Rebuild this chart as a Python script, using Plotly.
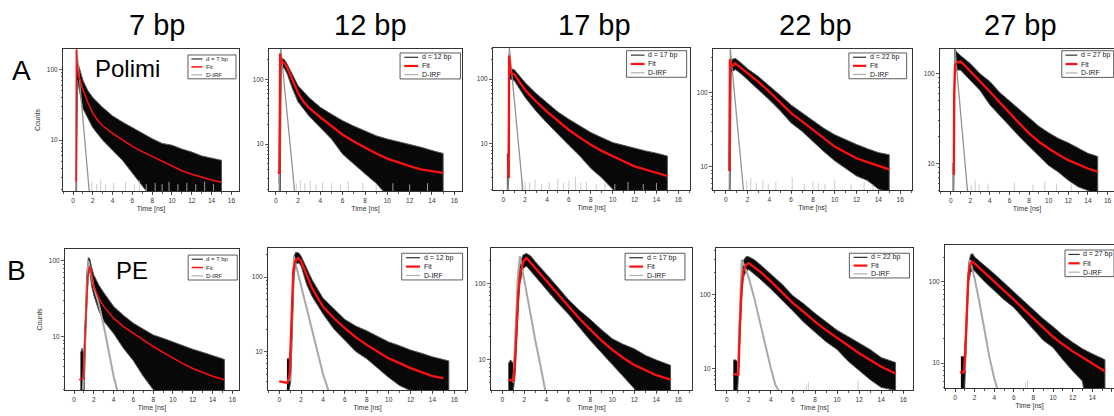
import plotly.graph_objects as go

FONT = "Liberation Sans, Arial, sans-serif"
W, H = 1114, 416

# ---------------- text ----------------
COLUMN_TITLES = ["7 bp", "12 bp", "17 bp", "22 bp", "27 bp"]
ROW_LABELS = ["A", "B"]
ROW_SOURCES = ["Polimi", "PE"]
DATA_NAMES = ["d = 7 bp", "d = 12 bp", "d = 17 bp", "d = 22 bp", "d = 27 bp"]
FIT_NAME = "Fit"
IRF_NAME = "D-IRF"
X_TITLE = "Time [ns]"
Y_TITLE = "Counts"
X_TICKS = [0, 2, 4, 6, 8, 10, 12, 14, 16]
Y_TICKS = [10, 100]
Y_MINOR = [2, 3, 4, 5, 6, 7, 8, 9, 20, 30, 40, 50, 60, 70, 80, 90,
           200, 300, 400, 500, 600, 700, 800, 900]
FLOOR = 1.0  # counts that fall below the visible axis

# ================= Row A : Polimi =================
# --- 7 bp ---
A07_fit_t = [0.30, 0.32, 0.34, 0.37, 0.55, 0.8, 1.0, 1.5, 2.0, 2.5, 3, 4, 5, 6, 7, 8, 9, 10, 11, 12, 13, 14, 15]
A07_fit_y = [2.6, 4, 190, 120, 85, 65, 52, 34, 24, 19, 16, 12.5, 10, 8.2, 6.9, 5.9, 5.0, 4.3, 3.7, 3.3, 3.0, 2.75, 2.55]
A07_env_t = [0.35, 0.45, 0.6, 1.0, 1.5, 2, 3, 4, 5, 6, 7, 8, 9, 10, 11, 12, 13, 14, 15]
A07_hi = [125, 125, 110, 70, 50, 40, 29, 22, 18, 15, 12.5, 10.5, 9, 8.5, 7.5, 6.8, 6.0, 5.6, 5.2]
A07_lo = [1, 70, 55, 28, 20, 15, 10, 7.2, 5.2, 3.4, 2.3, 1.5, 1, 1, 1, 1, 1, 1, 1]
A07_irf_t = [0.25, 0.30, 0.38, 0.6, 1.0, 1.4, 1.7]
A07_irf_y = [1, 3, 200, 90, 19, 3.8, 1.5]
A07_spk_t = [1.9, 2.4, 2.8, 3.3, 4.1, 5.3, 6.2, 6.7, 7.4, 8.3, 9.0, 9.7, 10.6, 11.5, 12.4, 13.3, 14.2]
A07_spk_y = [2.6, 2.4, 2.8, 2.4, 2.5, 2.6, 2.4, 2.7, 2.4, 2.5, 2.4, 2.6, 2.4, 2.5, 2.4, 2.6, 2.4]

# --- 12 bp ---
A12_fit_t = [0.18, 0.33, 0.40, 0.45, 0.55, 0.8, 1.0, 1.5, 2.0, 2.5, 3, 4, 5, 6, 7, 8, 9, 10, 11, 12, 13, 14, 15]
A12_fit_y = [3.6, 3.6, 250, 210, 190, 175, 155, 95, 62, 45, 36, 26, 19, 14, 11, 8.8, 7.2, 6.0, 5.2, 4.6, 4.1, 3.8, 3.6]
A12_env_t = [0.3, 0.4, 0.5, 0.8, 1.0, 1.5, 2, 3, 4, 5, 6, 7, 8, 9, 10, 11, 12, 13, 14, 15]
A12_hi = [2.5, 190, 215, 200, 175, 120, 80, 52, 37, 29, 23, 19, 16, 13.5, 12, 11, 10, 9, 8, 7.2]
A12_lo = [1, 1, 160, 145, 125, 72, 45, 27, 18, 12, 7, 5, 3.5, 2.5, 1.6, 1, 1, 1, 1, 1]
A12_irf_t = [0.3, 0.38, 0.45, 0.7, 1.0, 1.4, 1.75]
A12_irf_y = [1, 10, 300, 110, 33, 7, 1.5]
A12_spk_t = [1.85, 2.2, 2.6, 3.1, 3.6, 4.2, 5.0, 5.8, 6.5, 7.8, 9.0, 10.5, 12.0, 13.6]
A12_spk_y = [2.5, 2.8, 2.5, 2.7, 2.4, 2.6, 2.5, 2.4, 2.7, 2.5, 2.4, 2.5, 2.4, 2.5]

# --- 17 bp ---
A17_fit_t = [0.37, 0.50, 0.53, 0.60, 0.67, 1.0, 1.5, 2, 2.5, 3, 4, 5, 6, 7, 8, 9, 10, 11, 12, 13, 14, 15]
A17_fit_y = [3.1, 3.1, 230, 160, 124, 119, 90, 68, 55, 45, 31.5, 23, 16.4, 12.5, 9.7, 7.8, 6.4, 5.4, 4.5, 4.0, 3.6, 3.2]
A17_env_t = [0.33, 0.5, 0.55, 0.65, 1.0, 1.5, 2, 3, 4, 5, 6, 7, 8, 9, 10, 11, 12, 13, 14, 15]
A17_hi = [7, 7, 150, 145, 140, 110, 88, 60, 43, 31, 24, 19, 15, 12.5, 10.5, 9.5, 8.5, 7.8, 7.2, 6.5]
A17_lo = [1, 3, 95, 100, 95, 70, 52, 32, 21, 14, 9.5, 6.5, 4.2, 3, 2, 1, 1, 1, 1, 1]
A17_irf_t = [0.4, 0.48, 0.55, 0.8, 1.2, 1.6, 1.85]
A17_irf_y = [1, 20, 310, 112, 23, 4.6, 1.5]
A17_spk_t = [1.7, 2.0, 2.4, 2.9, 3.5, 4.2, 5.0, 5.5, 6.0, 6.6, 7.1, 7.6, 8.5, 9.3, 10.2, 11.4, 12.8, 14.0]
A17_spk_y = [3.0, 2.6, 2.5, 2.8, 2.4, 2.6, 2.9, 2.5, 2.7, 3.1, 2.5, 2.6, 2.4, 2.5, 2.4, 2.6, 2.4, 2.5]

# --- 22 bp ---
A22_fit_t = [0.24, 0.34, 0.38, 0.45, 0.55, 0.86, 1.5, 2, 3, 4, 5, 6, 7, 8, 9, 10, 11, 12, 13, 14, 15]
A22_fit_y = [9, 9, 280, 240, 224, 249, 210, 182, 140, 103, 74, 53, 41, 31.5, 24, 18.7, 15.5, 13, 11.5, 10.2, 9.2]
A22_env_t = [0.3, 0.36, 0.5, 0.9, 1.5, 2, 3, 4, 5, 6, 7, 8, 9, 10, 11, 12, 13, 14, 15]
A22_hi = [9, 280, 280, 290, 245, 210, 165, 125, 92, 68, 53, 42, 33, 27, 23, 20, 17.5, 15.5, 14.5]
A22_lo = [1, 1, 190, 205, 175, 150, 110, 80, 57, 39, 30, 22, 16, 12, 9.5, 7.5, 6.5, 5, 4.5]
A22_irf_t = [0.3, 0.36, 0.42, 0.7, 1.0, 1.3, 1.65]
A22_irf_y = [2, 20, 390, 140, 47, 15.6, 4.4]
A22_spk_t = [1.9, 2.3, 2.8, 3.4, 3.9, 4.6, 6.1, 7.2, 8.0, 8.5, 9.1, 10.0, 11.5, 12.7, 13.5]
A22_spk_y = [6.5, 7.0, 6.0, 6.5, 5.8, 6.2, 7.2, 5.8, 6.3, 6.0, 5.8, 6.6, 5.9, 6.3, 5.8]

# --- 27 bp ---
A27_fit_t = [0.2, 0.32, 0.36, 0.45, 0.7, 1.0, 1.5, 2, 3, 4, 5, 6, 7, 8, 9, 10, 11, 12, 13, 14, 15]
A27_fit_y = [7.7, 7.7, 60, 125, 135, 137, 122, 106, 82, 63, 48, 36, 28, 21.7, 17.5, 14.7, 12.5, 10.9, 9.7, 8.8, 8.1]
A27_env_t = [0.2, 0.3, 0.4, 0.6, 1, 2, 3, 4, 5, 6, 7, 8, 9, 10, 11, 12, 13, 14, 15]
A27_hi = [10, 10, 190, 175, 160, 130, 100, 82, 62, 50, 40, 32, 26, 22, 19, 17, 15, 13, 12]
A27_lo = [1, 6.5, 100, 110, 110, 85, 65, 45, 34, 26, 20, 15.5, 12, 9.5, 8, 6.5, 5.5, 5, 4.5]
A27_irf_t = [0.3, 0.38, 0.44, 0.7, 1.0, 1.3, 1.72]
A27_irf_y = [3, 20, 190, 89, 37, 15.8, 4.9]
A27_spk_t = [2.1, 2.5, 2.9, 3.8, 6.5, 8.4, 9.6, 10.8, 12.3]
A27_spk_y = [5.8, 6.5, 5.9, 6.0, 6.2, 5.8, 6.3, 5.9, 6.0]

# ================= Row B : PE =================
# --- 7 bp ---
B07_fit_t = [0.5, 0.95, 1.1, 1.25, 1.4, 1.55, 1.7, 2, 2.5, 3, 4, 5, 6, 7, 8, 9, 10, 11, 12, 13, 14, 15.2]
B07_fit_y = [2.7, 2.8, 9, 25, 62, 84, 75, 46, 32, 25, 17.5, 13.5, 11, 9, 7.4, 6.2, 5.2, 4.4, 3.8, 3.4, 3.0, 2.7]
B07_env_t = [0.65, 0.8, 1.0, 1.15, 1.3, 1.45, 1.6, 1.8, 2, 2.5, 3, 4, 5, 6, 7, 8, 9, 10, 11, 12, 13, 14, 15.2]
B07_hi = [6, 7, 6, 20, 70, 110, 105, 80, 65, 48, 38, 25, 19, 15, 12.5, 10.5, 9.5, 8.5, 7.5, 6.8, 6.2, 5.6, 5]
B07_lo = [1, 1, 1.5, 6, 30, 70, 70, 45, 35, 22, 16, 11, 7, 4.8, 3, 2, 1.5, 1, 1, 1, 1, 1, 1]
B07_irf_t = [0.9, 1.1, 1.3, 1.45, 1.7, 2.0, 2.5, 3.0, 3.5, 4.0, 4.4]
B07_irf_y = [2, 8, 50, 100, 70, 45, 27, 14, 6.5, 3, 1.9]
B07_spk_t = []
B07_spk_y = []

# --- 12 bp ---
B12_fit_t = [0.0, 0.6, 0.75, 0.95, 1.13, 1.28, 1.45, 1.74, 2, 2.5, 3, 4, 5, 6, 7, 8, 9, 10, 11, 12, 13, 14, 15]
B12_fit_y = [4.0, 3.9, 3.8, 5, 38, 119, 165, 180, 162, 105, 71, 40, 28, 20.6, 15.5, 12.3, 10, 8.1, 7, 6.0, 5.3, 4.7, 4.4]
B12_env_t = [0.7, 0.9, 1.05, 1.2, 1.35, 1.5, 1.8, 2, 2.5, 3, 4, 5, 6, 7, 8, 9, 10, 11, 12, 13, 14, 15.5]
B12_hi = [8, 8, 12, 60, 190, 215, 210, 190, 130, 92, 52, 37, 27, 22, 19, 16, 13.5, 12, 10.5, 9.5, 8.5, 7.5]
B12_lo = [1, 3, 4, 20, 100, 150, 155, 140, 80, 55, 32, 20, 14, 10, 8, 6, 4.5, 3.5, 3, 1, 1, 1]
B12_irf_t = [0.95, 1.1, 1.2, 1.34, 1.6, 2.0, 2.5, 3.0, 3.5, 4.0, 4.5]
B12_irf_y = [4, 15, 60, 190, 130, 75, 38, 19, 9.5, 5, 3]
B12_spk_t = []
B12_spk_y = []

# --- 17 bp ---
B17_fit_t = [0.55, 1.0, 1.15, 1.3, 1.45, 1.6, 1.9, 2.2, 3, 4, 5, 6, 7, 8, 9, 10, 11, 12, 13, 14, 15.3]
B17_fit_y = [5.5, 5.3, 9, 29, 75, 131, 195, 218, 161, 107, 73, 50, 35, 25, 18, 13.6, 10.6, 8.6, 7.3, 6.3, 5.5]
B17_env_t = [0.55, 0.75, 1.0, 1.15, 1.3, 1.45, 1.6, 1.9, 2.2, 2.6, 3, 4, 5, 6, 7, 8, 9, 10, 11, 12, 13, 14, 15.3]
B17_hi = [9, 10, 9, 12, 40, 110, 190, 240, 250, 230, 195, 135, 92, 62, 45, 34, 25, 19, 16, 14, 11.5, 10, 8.5]
B17_lo = [1, 1, 4, 6, 18, 50, 100, 160, 170, 150, 125, 85, 57, 40, 27, 18, 12.5, 8.5, 6, 4.2, 1, 1, 1]
B17_irf_t = [1.0, 1.2, 1.4, 1.6, 2.0, 2.5, 3.0, 3.5, 3.9]
B17_irf_y = [5, 30, 120, 230, 110, 48, 18, 8, 4]
B17_spk_t = []
B17_spk_y = []

# --- 22 bp ---
B22_fit_t = [0.6, 1.06, 1.2, 1.35, 1.5, 1.75, 2, 3, 4, 5, 6, 7, 8, 9, 10, 11, 12, 13, 14, 15.3]
B22_fit_y = [8.3, 8.3, 39, 120, 208, 255, 270, 208, 152, 108, 77, 58, 43, 33, 26, 20, 16, 13, 10.5, 8.5]
B22_env_t = [0.6, 0.8, 1.06, 1.2, 1.35, 1.5, 1.75, 2, 2.5, 3, 4, 5, 6, 7, 8, 9, 10, 11, 12, 13, 14, 15.3]
B22_hi = [13, 13, 12, 60, 180, 290, 330, 330, 300, 260, 190, 140, 97, 75, 56, 43, 33, 27, 22, 18, 14, 12]
B22_lo = [1, 1, 6, 25, 90, 170, 210, 220, 190, 165, 120, 85, 60, 42, 31, 23, 18, 12.5, 9.5, 7, 5.5, 5]
B22_irf_t = [1.0, 1.15, 1.25, 1.36, 1.6, 2.0, 2.5, 3.0, 3.5, 4.0, 4.4, 4.7]
B22_irf_y = [8, 40, 150, 300, 250, 170, 90, 42, 20, 10, 6, 5]
B22_spk_t = [7.2, 7.4, 11.9]
B22_spk_y = [6, 6.5, 7]

# --- 27 bp ---
B27_fit_t = [0.5, 0.92, 1.05, 1.15, 1.25, 1.36, 1.5, 1.7, 2, 3, 4, 5, 6, 7, 8, 9, 10, 11, 12, 13, 14, 15.3]
B27_fit_y = [7.7, 7.7, 14, 30, 65, 115, 155, 176, 167, 130, 100, 78, 60, 46, 35.6, 27.5, 21, 17, 13.9, 11.8, 10, 7.9]
B27_env_t = [0.6, 0.8, 0.95, 1.1, 1.25, 1.4, 1.6, 1.8, 2, 3, 4, 5, 6, 7, 8, 9, 10, 11, 12, 13, 14, 15.3]
B27_hi = [12, 12, 12, 25, 90, 170, 215, 220, 200, 160, 125, 97, 76, 58, 45, 35, 28, 22, 18, 15, 13, 11]
B27_lo = [1, 1, 5, 10, 40, 100, 130, 140, 135, 100, 78, 60, 48, 35, 26, 19, 15.5, 11, 8, 6, 1, 1]
B27_irf_t = [1.0, 1.2, 1.35, 1.53, 2.0, 2.5, 3.0, 3.5, 4.0, 4.3]
B27_irf_y = [8, 40, 120, 184, 110, 55, 25, 12, 6.5, 4.9]
B27_spk_t = [7.2, 7.4]
B27_spk_y = [5.8, 6.2]

PANELS = [
    (A07_fit_t, A07_fit_y, A07_env_t, A07_hi, A07_lo, A07_irf_t, A07_irf_y, A07_spk_t, A07_spk_y),
    (A12_fit_t, A12_fit_y, A12_env_t, A12_hi, A12_lo, A12_irf_t, A12_irf_y, A12_spk_t, A12_spk_y),
    (A17_fit_t, A17_fit_y, A17_env_t, A17_hi, A17_lo, A17_irf_t, A17_irf_y, A17_spk_t, A17_spk_y),
    (A22_fit_t, A22_fit_y, A22_env_t, A22_hi, A22_lo, A22_irf_t, A22_irf_y, A22_spk_t, A22_spk_y),
    (A27_fit_t, A27_fit_y, A27_env_t, A27_hi, A27_lo, A27_irf_t, A27_irf_y, A27_spk_t, A27_spk_y),
    (B07_fit_t, B07_fit_y, B07_env_t, B07_hi, B07_lo, B07_irf_t, B07_irf_y, B07_spk_t, B07_spk_y),
    (B12_fit_t, B12_fit_y, B12_env_t, B12_hi, B12_lo, B12_irf_t, B12_irf_y, B12_spk_t, B12_spk_y),
    (B17_fit_t, B17_fit_y, B17_env_t, B17_hi, B17_lo, B17_irf_t, B17_irf_y, B17_spk_t, B17_spk_y),
    (B22_fit_t, B22_fit_y, B22_env_t, B22_hi, B22_lo, B22_irf_t, B22_irf_y, B22_spk_t, B22_spk_y),
    (B27_fit_t, B27_fit_y, B27_env_t, B27_hi, B27_lo, B27_irf_t, B27_irf_y, B27_spk_t, B27_spk_y),
]

# ---------------- layout geometry (pixels of the 1114x416 page) ----------------
FRAMES = [(63, 239, 49, 191), (269, 462, 49, 191), (493, 690, 48, 190), (713, 912, 49, 190), (940, 1114, 49, 191),
          (65, 239, 249, 390), (268, 467, 248, 390), (491, 692, 248, 390), (716, 913, 248, 390), (945, 1114, 245, 388)]
X_RANGES = [(-1.01, 16.77), (-0.6, 16.69), (-0.94, 17.07), (-1.17, 17.09), (-1.09, 16.66),
            (-0.91, 16.67), (-1.03, 17.16), (-1.03, 17.25), (-0.97, 16.88), (-1.02, 16.22)]
Y_RANGES = [(0.283, 2.287), (0.278, 2.468), (0.289, 2.479), (0.685, 2.59), (0.694, 2.276),
            (0.296, 2.154), (0.485, 2.39), (0.605, 2.469), (0.705, 2.636), (0.694, 2.449)]
LEGEND_BOXES = [(0.71, 0.983, 0.79, 0.958), (0.679, 0.992, 0.789, 0.972), (0.678, 0.983, 0.794, 0.981),
                (0.683, 0.973, 0.789, 0.972), (0.700, 0.998, 0.80, 0.988),
                (0.708, 0.99, 0.78, 0.957), (0.672, 0.978, 0.775, 0.963), (0.667, 0.965, 0.775, 0.963),
                (0.677, 0.982, 0.789, 0.963), (0.71, 1.0, 0.779, 0.965)]
TITLE_X = [157, 370, 594, 815, 1021]

fig = go.Figure()
shapes, annotations = [], []
layout = {}

for k, (fit_t, fit_y, env_t, hi, lo, irf_t, irf_y, spk_t, spk_y) in enumerate(PANELS, start=1):
    xa = "x" if k == 1 else f"x{k}"
    ya = "y" if k == 1 else f"y{k}"
    row_b = k > 5
    # noisy decay: filled band between upper and lower envelope
    fig.add_trace(go.Scatter(
        x=env_t + env_t[::-1], y=hi + lo[::-1], xaxis=xa, yaxis=ya,
        mode="lines", fill="toself", fillcolor="#080808",
        line=dict(color="#555555", width=1.0), showlegend=False, hoverinfo="skip"))
    # IRF baseline spikes
    if spk_t:
        sx, sy = [], []
        for t, h in zip(spk_t, spk_y):
            sx += [t, t, None]
            sy += [FLOOR, h, None]
        fig.add_trace(go.Scatter(x=sx, y=sy, xaxis=xa, yaxis=ya, mode="lines",
                                 line=dict(color="#c0c0c0", width=0.8), showlegend=False, hoverinfo="skip"))
    # IRF
    fig.add_trace(go.Scatter(x=irf_t, y=irf_y, xaxis=xa, yaxis=ya, mode="lines",
                             line=dict(color="#a8a8a8" if row_b else "#939393", width=2.0 if row_b else 1.3),
                             showlegend=False, hoverinfo="skip"))
    # fit
    fig.add_trace(go.Scatter(x=fit_t, y=fit_y, xaxis=xa, yaxis=ya, mode="lines",
                             line=dict(color="#ff1010", width=1.5 if k in (1, 6) else 2.3),
                             showlegend=False, hoverinfo="skip"))

    l, r, t, b = FRAMES[k - 1]
    dom_x = [l / W, min(r / W, 1.0)]
    dom_y = [1 - b / H, 1 - t / H]
    axis_common = dict(showline=True, linecolor="#333333", linewidth=1, mirror=True,
                       ticks="outside", tickcolor="#333333", tickwidth=0.8, ticklen=3,
                       showgrid=False, zeroline=False,
                       tickfont=dict(size=6.5, family=FONT, color="#333333"))
    layout["xaxis" if k == 1 else f"xaxis{k}"] = dict(
        domain=dom_x, range=list(X_RANGES[k - 1]), anchor=ya,
        tickmode="array", tickvals=X_TICKS,
        minor=dict(ticks="outside", ticklen=1.5, tickcolor="#333333", dtick=1, tick0=0),
        title=dict(text=X_TITLE, font=dict(size=7, family=FONT, color="#333333"), standoff=3),
        **axis_common)
    layout["yaxis" if k == 1 else f"yaxis{k}"] = dict(
        type="log", domain=dom_y, range=list(Y_RANGES[k - 1]), anchor=xa,
        tickmode="array", tickvals=Y_TICKS, ticktext=[str(v) for v in Y_TICKS],
        minor=dict(ticks="outside", ticklen=1.5, tickcolor="#333333", tickmode="array", tickvals=Y_MINOR),
        title=dict(text=Y_TITLE if k in (1, 6) else "", font=dict(size=7, family=FONT, color="#333333"), standoff=5),
        **axis_common)

    # legend drawn inside the frame
    xr = "x domain" if k == 1 else f"x{k} domain"
    yr = "y domain" if k == 1 else f"y{k} domain"
    x0, x1, y0, y1 = LEGEND_BOXES[k - 1]
    fs = 6 if k in (1, 6) else 7
    shapes.append(dict(type="rect", xref=xr, yref=yr, x0=x0, x1=x1, y0=y0, y1=y1,
                       line=dict(color="#333333", width=0.8), fillcolor="white", layer="above"))
    items = [(DATA_NAMES[(k - 1) % 5], "#333333", 1.2),
             (FIT_NAME, "#ff1010", 1.5 if k in (1, 6) else 2.2),
             (IRF_NAME, "#b0b0b0", 1.2)]
    for j, (name, col, lw) in enumerate(items):
        yy = y1 - (j + 0.5) * (y1 - y0) / 3
        bw = x1 - x0
        shapes.append(dict(type="line", xref=xr, yref=yr, x0=x0 + 0.07 * bw, x1=x0 + 0.30 * bw,
                           y0=yy, y1=yy, line=dict(color=col, width=lw), layer="above"))
        annotations.append(dict(xref=xr, yref=yr, x=x0 + 0.33 * bw, y=yy, text=name, showarrow=False,
                                xanchor="left", yanchor="middle",
                                font=dict(size=fs, family=FONT, color="#222222")))

# column titles
for cx, txt in zip(TITLE_X, COLUMN_TITLES):
    annotations.append(dict(xref="paper", yref="paper", x=cx / W, y=1 - 25 / H, text=txt, showarrow=False,
                            xanchor="center", yanchor="middle", font=dict(size=29, family=FONT, color="black")))
# row letters and sources
for (lx, ly), txt in zip([(21, 71), (16, 270)], ROW_LABELS):
    annotations.append(dict(xref="paper", yref="paper", x=lx / W, y=1 - ly / H, text=txt, showarrow=False,
                            xanchor="center", yanchor="middle", font=dict(size=28, family=FONT, color="black")))
for (sx, sy), txt in zip([(127, 69), (132, 270)], ROW_SOURCES):
    annotations.append(dict(xref="paper", yref="paper", x=sx / W, y=1 - sy / H, text=txt, showarrow=False,
                            xanchor="center", yanchor="middle", font=dict(size=24, family=FONT, color="black")))

fig.update_layout(width=W, height=H, autosize=False,
                  margin=dict(l=0, r=0, t=0, b=0, pad=0),
                  paper_bgcolor="white", plot_bgcolor="white",
                  font=dict(family=FONT), showlegend=False,
                  shapes=shapes, annotations=annotations, **layout)

fig.write_html("out.html", config={"displayModeBar": False, "staticPlot": True},
               post_script="document.body.style.margin='0';")
